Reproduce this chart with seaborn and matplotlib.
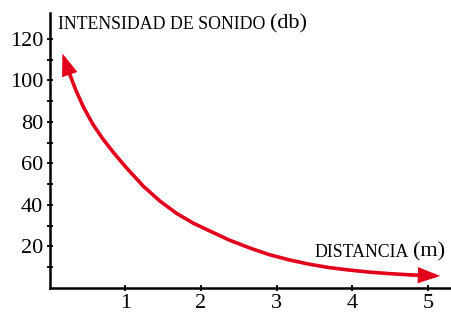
import matplotlib
matplotlib.use("Agg")
import matplotlib.pyplot as plt
import seaborn as sns

# values
distance = [0.17, 0.25, 0.35, 0.45, 0.57, 0.70, 0.85, 1.02, 1.24, 1.46,
            1.68, 1.90, 2.12, 2.38, 2.65, 2.90, 3.17, 3.44, 3.70, 3.97,
            4.24, 4.50, 4.77, 5.16]
intensity = [113.0, 104.5, 95.0, 87.0, 79.0, 72.0, 65.0, 57.7, 49.0, 41.8,
             35.9, 31.2, 27.4, 23.0, 19.2, 16.1, 13.5, 11.4, 9.8, 8.6,
             7.6, 6.9, 6.3, 5.8]

x_ticks = [1, 2, 3, 4, 5]
y_ticks = [20, 40, 60, 80, 100, 120]
y_minor = [10, 30, 50, 70, 90, 110]

RED = "#e2001a"

sns.set_style("ticks")
plt.rcParams["font.family"] = ["Liberation Serif", "DejaVu Serif"]
plt.rcParams["text.color"] = "black"

fig = plt.figure(figsize=(4.52, 3.13), dpi=100)
ax = fig.add_axes([49.6 / 452, 25 / 313, (452 - 49.6) / 452, 275 / 313])

sns.lineplot(x=distance[1:-1], y=intensity[1:-1], sort=False, estimator=None,
             color=RED, lw=2.6, solid_joinstyle="round", solid_capstyle="round",
             ax=ax)

arrow = dict(arrowstyle="-|>,head_length=0.55,head_width=0.2", color=RED,
             lw=2.6, mutation_scale=20, shrinkA=0, shrinkB=0,
             joinstyle="miter")
ax.annotate("", xy=(distance[0], intensity[0]),
            xytext=(distance[1], intensity[1]), arrowprops=arrow)
ax.annotate("", xy=(distance[-1], intensity[-1]),
            xytext=(distance[-2], intensity[-2]), arrowprops=arrow)

ax.set_xlim(0, 5.316)
ax.set_ylim(0, 132.5)
ax.set_xticks(x_ticks)
ax.set_yticks(y_ticks)
ax.set_yticks(y_minor, minor=True)
ax.tick_params(axis="both", which="both", direction="inout", length=5,
               width=1.3, color="black", labelcolor="black", labelsize=16,
               pad=2)

sns.despine(ax=ax)
for side in ["left", "bottom"]:
    ax.spines[side].set_linewidth(1.8)
    ax.spines[side].set_color("black")

ax.set_xlabel("")
ax.set_ylabel("")

t1 = fig.text(58 / 452, 1 - 29 / 313, "INTENSIDAD DE SONIDO", fontsize=12.8,
              va="baseline", ha="left", color="black")
ax.annotate("(db)", xy=(1, 0), xycoords=t1, xytext=(3, 0),
            textcoords="offset points", fontsize=16, va="bottom", ha="left",
            color="black")

t2 = fig.text(314 / 452, 1 - 257 / 313, "DISTANCIA", fontsize=12.8,
              va="baseline", ha="left", color="black")
ax.annotate("(m)", xy=(1, 0), xycoords=t2, xytext=(3, 0),
            textcoords="offset points", fontsize=16, va="bottom", ha="left",
            color="black")

fig.savefig("out.png", dpi=100)
